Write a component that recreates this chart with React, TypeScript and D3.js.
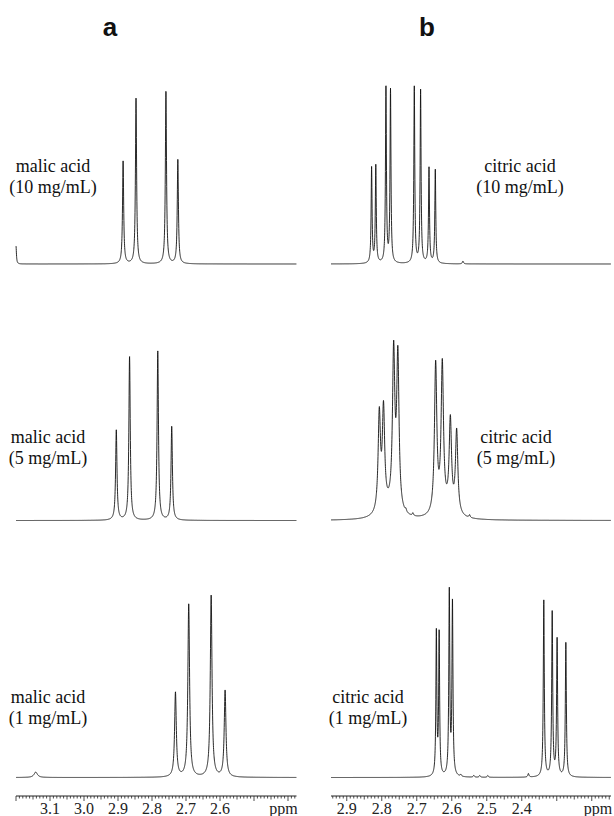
import { useMemo } from 'react';
import * as d3 from 'd3';

// tick labels
const AXIS_A_LABELS = [3.1, 3.0, 2.9, 2.8, 2.7, 2.6];
const AXIS_B_LABELS = [2.9, 2.8, 2.7, 2.6, 2.5, 2.4];

// peak lists: shift (ppm), intensity (0-100), half width (ppm)
const malic10Ppm = [3.2, 2.885, 2.847, 2.759, 2.724];
const malic10Int = [10, 57, 92, 96, 58];
const malic10Hw = [0.0015, 0.002, 0.002, 0.002, 0.002];

const malic5Ppm = [2.905, 2.866, 2.783, 2.742];
const malic5Int = [50, 91, 94, 52];
const malic5Hw = [0.0024, 0.0024, 0.0024, 0.0024];

const malic1Ppm = [3.142, 2.731, 2.692, 2.626, 2.585];
const malic1Int = [3, 47, 96, 101, 48];
const malic1Hw = [0.006, 0.003, 0.003, 0.003, 0.003];

const citric10Ppm = [2.829, 2.817, 2.788, 2.775, 2.707, 2.689, 2.665, 2.647, 2.568];
const citric10Int = [53, 54, 98, 96, 98, 96, 53, 52, 1.5];
const citric10Hw = [0.0016, 0.0016, 0.0016, 0.0016, 0.0016, 0.0016, 0.0016, 0.0016, 0.002];

const citric5Ppm = [2.807, 2.795, 2.766, 2.754, 2.646, 2.627, 2.604, 2.586, 2.731, 2.711, 2.549, 2.78, 2.615];
const citric5Int = [54, 55, 86, 85, 83, 81, 50, 46, 1.5, 1.5, 1.5, 5, 4];
const citric5Hw = [0.004, 0.004, 0.004, 0.004, 0.004, 0.004, 0.004, 0.004, 0.002, 0.002, 0.002, 0.025, 0.025];

const citric1Ppm = [2.644, 2.636, 2.607, 2.598, 2.337, 2.313, 2.299, 2.274, 2.574, 2.537, 2.52, 2.497, 2.381];
const citric1Int = [80, 79, 102, 96, 98, 91, 76, 75, 1, 1, 1, 1, 2];
const citric1Hw = [0.0016, 0.0016, 0.0017, 0.0017, 0.0017, 0.0017, 0.0017, 0.0017, 0.002, 0.002, 0.002, 0.002, 0.002];

const W = 614;
const H = 816;
const SERIF = "'Liberation Serif', 'Times New Roman', serif";
const SANS = "'Liberation Sans', Arial, sans-serif";
const ROW_BASE = [264, 520.5, 777.5];
const ROW_SPAN = 180;
const LABEL_Y = [172, 443, 703];
const AXIS_Y = 796;

const xA = d3.scaleLinear().domain([3.2, 2.375]).range([16, 296.5]);
const xB = d3.scaleLinear().domain([2.945, 2.145]).range([331, 611]);

const spectra = [
  { ppm: malic10Ppm, int: malic10Int, hw: malic10Hw, side: 'a', row: 0, text: ['malic acid', '(10 mg/mL)'], tx: 53 },
  { ppm: malic5Ppm, int: malic5Int, hw: malic5Hw, side: 'a', row: 1, text: ['malic acid', '(5 mg/mL)'], tx: 48 },
  { ppm: malic1Ppm, int: malic1Int, hw: malic1Hw, side: 'a', row: 2, text: ['malic acid', '(1 mg/mL)'], tx: 48 },
  { ppm: citric10Ppm, int: citric10Int, hw: citric10Hw, side: 'b', row: 0, text: ['citric acid', '(10 mg/mL)'], tx: 520 },
  { ppm: citric5Ppm, int: citric5Int, hw: citric5Hw, side: 'b', row: 1, text: ['citric acid', '(5 mg/mL)'], tx: 516 },
  { ppm: citric1Ppm, int: citric1Int, hw: citric1Hw, side: 'b', row: 2, text: ['citric acid', '(1 mg/mL)'], tx: 368 },
];

// lorentzian line shape for a peak list
function intensityAt(p: number, ppm: number[], int: number[], hw: number[]) {
  let s = 0;
  for (let i = 0; i < ppm.length; i++) {
    const d = p - ppm[i];
    s += (int[i] * hw[i] * hw[i]) / (d * d + hw[i] * hw[i]);
  }
  return s;
}

function Axis({ x, labels }: { x: d3.ScaleLinear<number, number>; labels: number[] }) {
  const [r0, r1] = x.range();
  const ticks = x.ticks(80);
  return (
    <g>
      <line x1={r0} x2={r1} y1={AXIS_Y} y2={AXIS_Y} stroke="#222" strokeWidth={1} />
      {ticks.map((t, i) => {
        const k = Math.round(t * 100);
        const len = k % 10 === 0 ? 5 : k % 5 === 0 ? 3.5 : 2.5;
        return <line key={i} x1={x(t)} x2={x(t)} y1={AXIS_Y} y2={AXIS_Y + len} stroke="#222" strokeWidth={0.8} />;
      })}
      {labels.map(l => (
        <text key={l} x={x(l)} y={814} textAnchor="middle" fontFamily={SERIF} fontSize={16} fill="#222">
          {l.toFixed(1)}
        </text>
      ))}
      <text x={r1 - 13} y={814} textAnchor="middle" fontFamily={SERIF} fontSize={16} fill="#222">ppm</text>
    </g>
  );
}

export default function App() {
  const paths = useMemo(() => {
    return spectra.map(s => {
      const x = s.side === 'a' ? xA : xB;
      const y = d3.scaleLinear().domain([0, 100]).range([ROW_BASE[s.row], ROW_BASE[s.row] - ROW_SPAN]);
      const [r0, r1] = x.range();
      const pts = d3.range(r0, r1, 0.1).map(px => {
        const p = x.invert(px);
        return [px, y(intensityAt(p, s.ppm, s.int, s.hw))] as [number, number];
      });
      return d3.line()(pts) || '';
    });
  }, []);

  return (
    <svg width={W} height={H} style={{ position: 'absolute', left: 0, top: 0, background: '#fff' }}>
      <text x={110} y={36} textAnchor="middle" fontFamily={SANS} fontWeight="bold" fontSize={26} fill="#111">a</text>
      <text x={427} y={36} textAnchor="middle" fontFamily={SANS} fontWeight="bold" fontSize={26} fill="#111">b</text>

      {spectra.map((s, i) => (
        <g key={i}>
          <path d={paths[i]} fill="none" stroke="#111" strokeWidth={0.9} />
          {s.text.map((t, j) => (
            <text key={j} x={s.tx} y={LABEL_Y[s.row] + j * 21}
              textAnchor="middle" fontFamily={SERIF} fontSize={18} fill="#111">
              {t}
            </text>
          ))}
        </g>
      ))}

      <Axis x={xA} labels={AXIS_A_LABELS} />
      <Axis x={xB} labels={AXIS_B_LABELS} />
    </svg>
  );
}
